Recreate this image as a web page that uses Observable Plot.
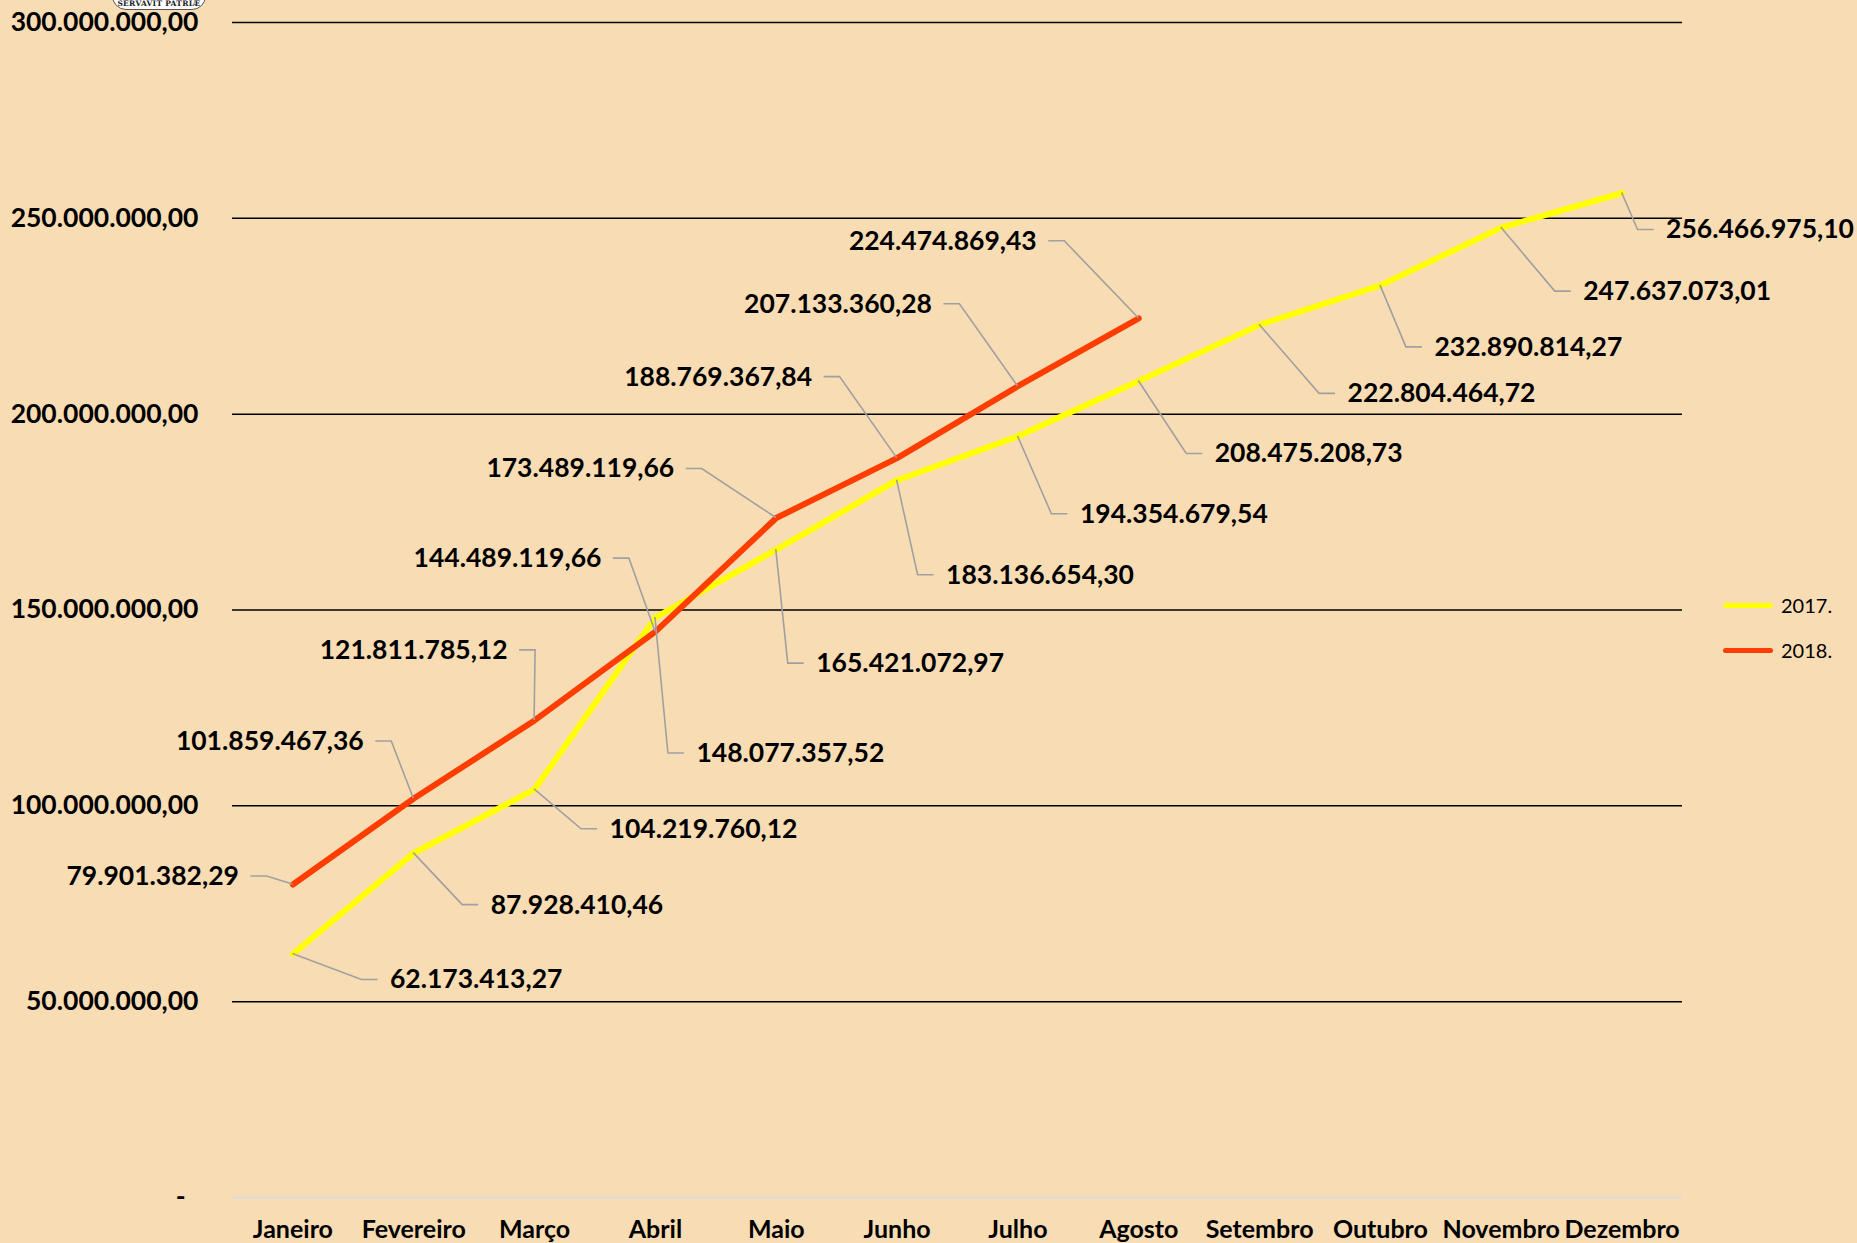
<!DOCTYPE html>
<html>
<head>
<meta charset="utf-8">
<script src="https://cdn.jsdelivr.net/npm/d3@7"></script>
<script src="https://cdn.jsdelivr.net/npm/@observablehq/plot@0.6"></script>
<style>
  html, body { margin: 0; padding: 0; background: #F8DCB4; }
  body { width: 1857px; height: 1243px; position: relative; overflow: hidden; font-family: Lato, "Open Sans", sans-serif; }
  #chart { position: absolute; left: 0; top: 0; }
  #chart g[aria-label="y-axis tick label"] { font-size: 26.5px; }
  #chart g[aria-label="x-axis tick label"] { font-size: 25px; }
  .legend { position: absolute; left: 1723px; font-size: 20px; color: #000; font-family: Lato, sans-serif; }
  .legend .item { position: absolute; left: 0; white-space: nowrap; display: flex; align-items: center; }
  .legend .sw { width: 50px; height: 5px; border-radius: 3px; margin-right: 8px; }
  .logo { position: absolute; left: 112px; top: -9px; width: 92px; height: 17px; background: #fff; border: 1.5px solid #555; border-radius: 0 0 14px 14px; font: bold 7.5px "DejaVu Serif", serif; text-align: center; line-height: 24px; color: #222; letter-spacing: 0.3px; }
</style>
</head>
<body>
<div class="logo">SERVAVIT PATRIÆ</div>
<div id="chart"></div>
<div class="legend">
  <div class="item" style="top:593px"><div class="sw" style="background:#FFFF00"></div>2017.</div>
  <div class="item" style="top:638px"><div class="sw" style="background:#FF3D00"></div>2018.</div>
</div>
<script>
// ---- data ----
const months = ["Janeiro", "Fevereiro", "Março", "Abril", "Maio", "Junho", "Julho", "Agosto", "Setembro", "Outubro", "Novembro", "Dezembro"];
const values2017 = [62173413.27, 87928410.46, 104219760.12, 148077357.52, 165421072.97, 183136654.30, 194354679.54, 208475208.73, 222804464.72, 232890814.27, 247637073.01, 256466975.10];
const values2018 = [79901382.29, 101859467.36, 121811785.12, 144489119.66, 173489119.66, 188769367.84, 207133360.28, 224474869.43];
const yTicks = [0, 50000000, 100000000, 150000000, 200000000, 250000000, 300000000];

// ---- label placement (pixel offsets of each data label from its point) ----
const offsets2017 = [[97, 26], [77, 52], [75, 40], [41, 136], [40, 114], [49, 95], [62, 78], [76, 73], [88, 69], [54, 62], [82, 64], [44, 37]];
const offsets2018 = [[-54, -8], [-50, -57], [-27, -70], [-54, -73], [-102, -49], [-85, -81], [-86, -82], [-102, -77]];

const locale = d3.formatLocale({decimal: ",", thousands: ".", grouping: [3], currency: ["R$", ""]});
const fmt = locale.format(",.2f");

const rows = [];
values2017.forEach((v, i) => rows.push({month: months[i], value: v, serie: "2017.", off: offsets2017[i], side: 1}));
values2018.forEach((v, i) => rows.push({month: months[i], value: v, serie: "2018.", off: offsets2018[i], side: -1}));
const d2017 = rows.filter(d => d.serie === "2017.");
const d2018 = rows.filter(d => d.serie === "2018.");

const GAP = 12, SEG = 16;
const FONT = "Lato, 'Open Sans', sans-serif";

// leader lines drawn with the plot's own scales
function leaders(index, scales) {
  const g = d3.create("svg:g").attr("fill", "none").attr("stroke", "#A0A0A0").attr("stroke-width", 1.6);
  for (const d of rows) {
    const px = scales.x(d.month), py = scales.y(d.value);
    const ax = px + d.off[0], ay = py + d.off[1];
    const endX = ax - d.side * GAP;
    const elbowX = endX - d.side * SEG;
    g.append("path").attr("d", `M${px},${py}L${elbowX},${ay}L${endX},${ay}`);
  }
  return g.node();
}

const labelMarks = rows.map(d => Plot.text([d], {
  x: "month", y: "value", text: r => fmt(r.value),
  dx: d.off[0], dy: d.off[1],
  textAnchor: d.side > 0 ? "start" : "end",
  fontSize: 26.5, fontWeight: "bold", fill: "#000", fontFamily: FONT
}));

const chart = Plot.plot({
  width: 1857,
  height: 1243,
  marginLeft: 232,
  marginRight: 175,
  marginTop: 22,
  marginBottom: 46,
  style: {background: "transparent", fontFamily: FONT, fontSize: "25px", fontWeight: "bold", color: "#000", overflow: "visible"},
  x: {type: "point", domain: months, padding: 0.5, round: false, tickSize: 0, tickPadding: 23, label: null},
  y: {domain: [0, 300000000], ticks: yTicks, tickSize: 0, tickPadding: 34, label: null,
      tickFormat: d => d === 0 ? "-\u00a0\u00a0" : fmt(d)},
  marks: [
    Plot.ruleY(yTicks.filter(t => t > 0), {stroke: "#000", strokeWidth: 1.5}),
    Plot.ruleY([0], {stroke: "#D6DCE4", strokeWidth: 2}),
    Plot.line(d2017, {x: "month", y: "value", stroke: "#FFFF00", strokeWidth: 6, strokeLinejoin: "round"}),
    Plot.line(d2018, {x: "month", y: "value", stroke: "#FF3D00", strokeWidth: 6, strokeLinejoin: "round", strokeLinecap: "round"}),
    leaders,
    ...labelMarks
  ]
});
document.getElementById("chart").appendChild(chart);
</script>
</body>
</html>
